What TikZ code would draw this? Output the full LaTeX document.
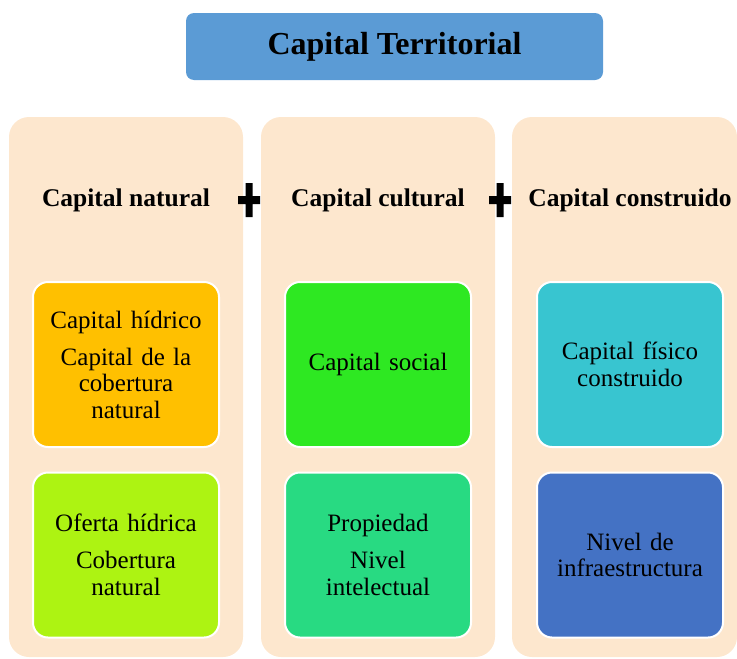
\documentclass[tikz,border=0pt]{standalone}
\usepackage{fontspec}
\setmainfont{Liberation Serif}
\usetikzlibrary{positioning}

\definecolor{titleblue}{HTML}{5B9BD5}
\definecolor{peach}{HTML}{FDE7CE}
\definecolor{amber}{HTML}{FFC000}
\definecolor{lime}{HTML}{ADF312}
\definecolor{brightgreen}{HTML}{2EE822}
\definecolor{seagreen}{HTML}{28DA82}
\definecolor{turquoise}{HTML}{38C5D0}
\definecolor{royal}{HTML}{4472C4}

\begin{document}
\begin{tikzpicture}[x=1pt, y=-1pt, node distance=252pt]
        \tikzstyle{column}=[fill=peach, rounded corners=20pt, minimum width=234pt, minimum height=540pt, inner sep=0pt]
        \tikzstyle{heading}=[font=\fontsize{25.5}{28}\selectfont\bfseries]
        \tikzstyle{item}=[draw=white, line width=2pt, rounded corners=15pt, minimum width=186pt, minimum height=165pt, text width=176pt, align=center, inner sep=0pt, font=\fontsize{25}{26.5}\selectfont]
        \useasboundingbox (0,0) rectangle (737,659);

        \node[fill=titleblue, rounded corners=8pt, minimum width=417pt, minimum height=67pt, font=\fontsize{32}{36}\selectfont\bfseries] (title) at (394.5,46.5) {Capital Territorial};

        % columns
        \node[column]                       (colA) at (126,387)   {};
        \node[column]                       (colB) [right of=colA] {};
        \node[column, minimum width=225pt]  (colC) at (624.5,387) {};

        \node[heading]  (natural)    at (126,200)          {Capital natural};
        \node[heading]  (cultural)   [right of=natural]    {Capital cultural};
        \node[heading]  (construido) [right of=cultural]   {Capital construido};

        % plus signs
        \fill[shift={(249,200)}] (-3.5,-17) rectangle (3.5,17) (-11,-4) rectangle (11,4);
        \fill[shift={(500,200)}] (-3.5,-17) rectangle (3.5,17) (-11,-4) rectangle (11,4);

        \node[item, fill=amber, below of=natural, node distance=164.5pt]    (hidrico)
            {Capital hídrico\\[10.5pt]Capital de la\\cobertura\\natural};
        \node[item, fill=lime, below of=hidrico, node distance=190.5pt]     (oferta)
            {Oferta hídrica\\[10.5pt]Cobertura\\natural};

        \node[item, fill=brightgreen, below of=cultural, node distance=164.5pt] (social)
            {Capital social};
        \node[item, fill=seagreen, below of=social, node distance=190.5pt]      (propiedad)
            {Propiedad\\[10.5pt]Nivel\\intelectual};

        \node[item, fill=turquoise, below of=construido, node distance=164.5pt] (fisico)
            {Capital físico\\construido};
        \node[item, fill=royal, below of=fisico, node distance=190.5pt]         (infra)
            {Nivel de\\infraestructura};
\end{tikzpicture}
\end{document}
